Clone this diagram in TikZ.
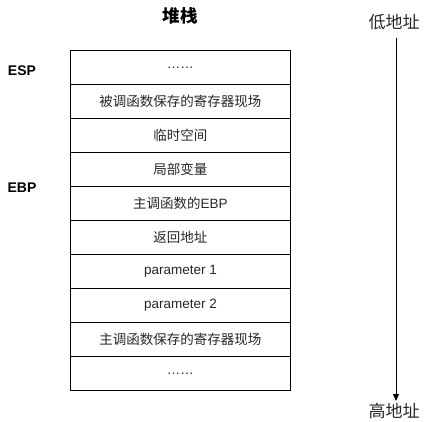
\documentclass[tikz,border=0pt]{standalone}
\usepackage{fontspec}
\setmainfont{Liberation Sans}
\newfontfamily\cjk{Noto Sans CJK SC}
\usetikzlibrary{arrows.meta}
\begin{document}
\begin{tikzpicture}[x=1pt,y=-1pt,
  cell/.style={draw=black,line width=0.9pt,minimum width=220pt,minimum height=34pt,inner sep=0pt,font=\fontsize{13.5}{15}\selectfont,text=black!85,anchor=north west},
  lbl/.style={font=\bfseries\fontsize{14}{16}\selectfont},
  addr/.style={font=\cjk\fontsize{17}{19}\selectfont,text=black!85}]
\useasboundingbox (0,0) rectangle (431,421);
\node[font=\cjk\bfseries\fontsize{17.5}{19}\selectfont] (title) at (180,16) {堆栈};
\node[cell] (r1) at (70,50) {……};
\node[cell] (r2) at (70,84) {\cjk 被调函数保存的寄存器现场};
\node[cell] (r3) at (70,118) {\cjk 临时空间};
\node[cell] (r4) at (70,152) {\cjk 局部变量};
\node[cell] (r5) at (70,186) {{\cjk 主调函数的}EBP};
\node[cell] (r6) at (70,220) {\cjk 返回地址};
\node[cell] (r7) at (70,254) {parameter 1};
\node[cell] (r8) at (70,288) {parameter 2};
\node[cell] (r9) at (70,322) {\cjk 主调函数保存的寄存器现场};
\node[cell] (r10) at (70,356) {……};
\node[lbl] (esp) at (22,71) {ESP};
\node[lbl] (ebp) at (22,188) {EBP};
\node[addr] (low) at (394,22) {低地址};
\node[addr] (high) at (394,411) {高地址};
\coordinate (a) at (396,38);
\coordinate (b) at (396,401);
\draw[line width=1pt,-{Triangle[length=7pt,width=6pt]}] (a) -- (b);
\end{tikzpicture}
\end{document}
